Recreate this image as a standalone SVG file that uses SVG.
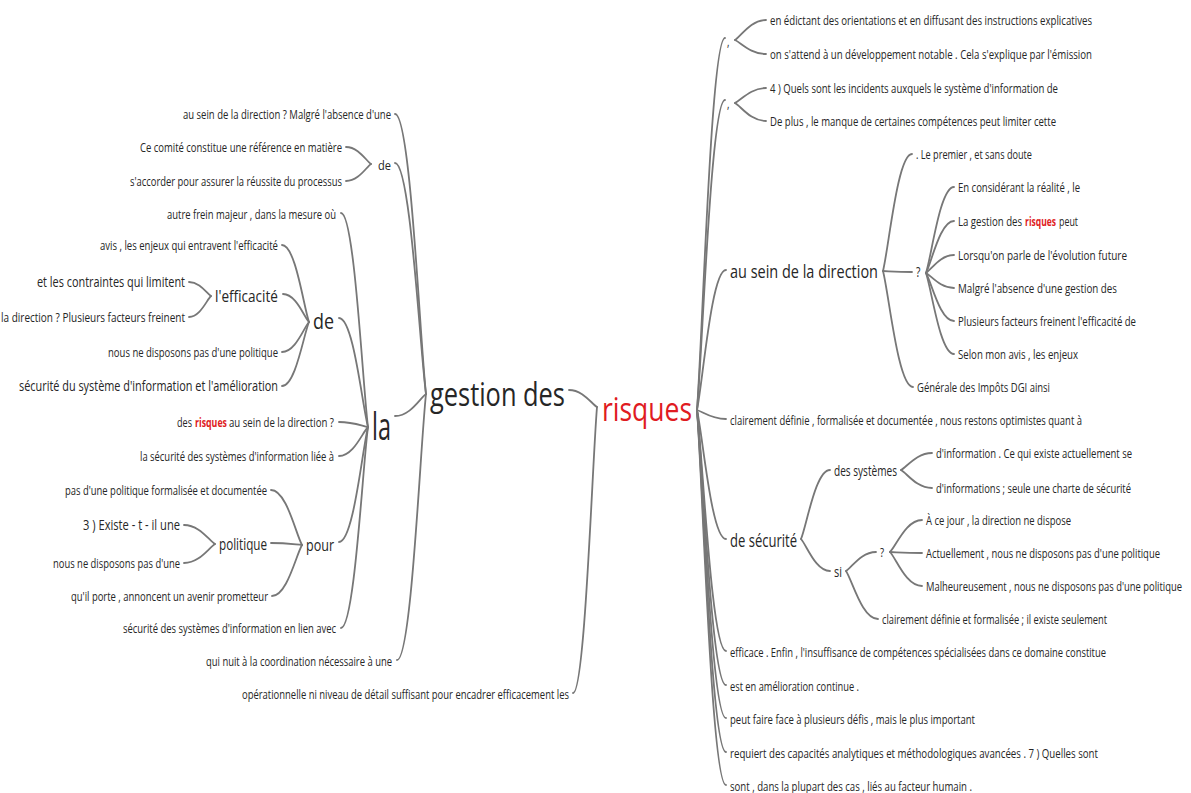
<svg xmlns="http://www.w3.org/2000/svg" width="1191" height="793" viewBox="0 0 1191 793">
<style>
text{font-family:"Open Sans","Noto Sans","Liberation Sans",sans-serif;fill:#262626;font-size:13px}
.f14{font-size:14px}.f15{font-size:15px}.f16{font-size:16px}.f17{font-size:17px}.f19{font-size:19px}.f21{font-size:21px}
.big{font-size:33px}
.red{fill:#e01b22}
.kw{fill:#e01b22;font-weight:bold}
#connectors path{fill:none;stroke:#777777;stroke-width:1.8;stroke-linecap:round}
</style>
<rect width="1191" height="793" fill="#ffffff"/>
<g id="connectors">
<path d="M426,394 C419.8,338 410.5,114 395,114"/>
<path d="M426,394 C419.8,347.8 410.5,163 395,163"/>
<path d="M426,394 C419.8,398.4 410.5,416 395,416"/>
<path d="M426,394 C420.2,447.2 411.5,660 397,660"/>
<path d="M371,164 C366,160.6 358.5,147 346,147"/>
<path d="M371,164 C366,167.4 358.5,181 346,181"/>
<path d="M368,427 C362.6,384.2 354.5,213 341,213"/>
<path d="M368,427 C362.2,405.2 353.5,318 339,318"/>
<path d="M368,427 C362.2,426 353.5,422 339,422"/>
<path d="M368,427 C362.2,432.8 353.5,456 339,456"/>
<path d="M368,427 C362.2,450 353.5,542 339,542"/>
<path d="M368,427 C362.6,467.2 354.5,628 341,628"/>
<path d="M309,322 C303.6,306.6 295.5,245 282,245"/>
<path d="M309,322 C303.8,316.4 296,294 283,294"/>
<path d="M309,322 C303.6,328 295.5,352 282,352"/>
<path d="M309,322 C303.6,334.8 295.5,386 282,386"/>
<path d="M211,296 C206.6,293.2 200,282 189,282"/>
<path d="M211,296 C206.6,300.2 200,317 189,317"/>
<path d="M302,545 C295.8,534 286.5,490 271,490"/>
<path d="M302,545 C295.8,544.6 286.5,543 271,543"/>
<path d="M302,545 C296,555.2 287,596 272,596"/>
<path d="M215,544 C208.8,540.2 199.5,525 184,525"/>
<path d="M215,544 C208.8,547.8 199.5,563 184,563"/>
<path d="M597,407 C591.4,403.6 583,390 569,390"/>
<path d="M597,407 C592.2,464.2 585,693 573,693"/>
<path d="M697,410 C702.6,335.6 711,38 725,38"/>
<path d="M697,410 C702.6,348 711,100 725,100"/>
<path d="M697,410 C702.8,382 711.5,270 726,270"/>
<path d="M697,410 C702.8,411.8 711.5,419 726,419"/>
<path d="M697,410 C702.8,435.8 711.5,539 726,539"/>
<path d="M697,410 C702.8,458.2 711.5,651 726,651"/>
<path d="M697,410 C702.8,465 711.5,685 726,685"/>
<path d="M697,410 C702.8,471.6 711.5,718 726,718"/>
<path d="M697,410 C702.8,478.4 711.5,752 726,752"/>
<path d="M697,410 C702.8,485 711.5,785 726,785"/>
<path d="M735,40 C741.2,36 750.5,20 766,20"/>
<path d="M735,40 C741.2,42.8 750.5,54 766,54"/>
<path d="M735,103 C741.2,100 750.5,88 766,88"/>
<path d="M735,103 C741.2,106.6 750.5,121 766,121"/>
<path d="M883,271 C888.8,247.6 897.5,154 912,154"/>
<path d="M883,271 C888.8,271.2 897.5,272 912,272"/>
<path d="M883,271 C889,294.2 898,387 913,387"/>
<path d="M926,273 C931.6,255.8 940,187 954,187"/>
<path d="M926,273 C931.6,262.6 940,221 954,221"/>
<path d="M926,273 C931.6,269.4 940,255 954,255"/>
<path d="M926,273 C931.6,276 940,288 954,288"/>
<path d="M926,273 C931.6,282.6 940,321 954,321"/>
<path d="M926,273 C931.6,289.2 940,354 954,354"/>
<path d="M801,539 C806.8,525.2 815.5,470 830,470"/>
<path d="M801,539 C806.8,545.4 815.5,571 830,571"/>
<path d="M901,470 C907.2,466.6 916.5,453 932,453"/>
<path d="M901,470 C907.2,473.6 916.5,488 932,488"/>
<path d="M846,571 C852,567.2 861,552 876,552"/>
<path d="M846,571 C852.4,580.6 862,619 878,619"/>
<path d="M890,552 C896.4,545.6 906,520 922,520"/>
<path d="M890,552 C896.4,552.2 906,553 922,553"/>
<path d="M890,552 C896.4,558.8 906,586 922,586"/>
</g>
<g id="n-risques"><text class="big red" transform="translate(602,421) scale(.73,1)" textLength="123.3" lengthAdjust="spacingAndGlyphs">risques</text></g>
<g id="n-gestion"><text class="big" transform="translate(430,406) scale(.73,1)" textLength="184.9" lengthAdjust="spacingAndGlyphs">gestion des</text></g>
<g id="n-la"><text class="big" style="font-size:38px" transform="translate(372,440) scale(.73,1)" textLength="26" lengthAdjust="spacingAndGlyphs">la</text></g>
<g id="n-L1"><text transform="translate(183,118.5) scale(.73,1)" textLength="284.9" lengthAdjust="spacingAndGlyphs">au sein de la direction ? Malgré l'absence d'une</text></g>
<g id="n-L2"><text transform="translate(378,169.5) scale(.73,1)" textLength="17.8" lengthAdjust="spacingAndGlyphs">de</text></g>
<g id="n-L2a"><text transform="translate(140,151.5) scale(.73,1)" textLength="276.7" lengthAdjust="spacingAndGlyphs">Ce comité constitue une référence en matière</text></g>
<g id="n-L2b"><text transform="translate(130,185.5) scale(.73,1)" textLength="290.4" lengthAdjust="spacingAndGlyphs">s'accorder pour assurer la réussite du processus</text></g>
<g id="n-L3"><text transform="translate(167,218.5) scale(.73,1)" textLength="231.5" lengthAdjust="spacingAndGlyphs">autre frein majeur , dans la mesure où</text></g>
<g id="n-L4"><text class="f21" transform="translate(313,329) scale(.73,1)" textLength="28.8" lengthAdjust="spacingAndGlyphs">de</text></g>
<g id="n-L4a"><text transform="translate(100,249.5) scale(.73,1)" textLength="243.8" lengthAdjust="spacingAndGlyphs">avis , les enjeux qui entravent l'efficacité</text></g>
<g id="n-L4b"><text class="f16" transform="translate(215,301.5) scale(.73,1)" textLength="86.3" lengthAdjust="spacingAndGlyphs">l'efficacité</text></g>
<g id="n-L4b1"><text class="f15" transform="translate(37,287) scale(.73,1)" textLength="202.7" lengthAdjust="spacingAndGlyphs">et les contraintes qui limitent</text></g>
<g id="n-L4b2"><text transform="translate(1,321.5) scale(.73,1)" textLength="252.1" lengthAdjust="spacingAndGlyphs">la direction ? Plusieurs facteurs freinent</text></g>
<g id="n-L4c"><text transform="translate(108,356.5) scale(.73,1)" textLength="232.9" lengthAdjust="spacingAndGlyphs">nous ne disposons pas d'une politique</text></g>
<g id="n-L4d"><text class="f15" transform="translate(19,391) scale(.73,1)" textLength="354.8" lengthAdjust="spacingAndGlyphs">sécurité du système d'information et l'amélioration</text></g>
<g id="n-L5">
<text transform="translate(177,426.5) scale(.73,1)" textLength="20.5" lengthAdjust="spacingAndGlyphs">des</text>
<text class="kw" transform="translate(195,426.5) scale(.73,1)" textLength="43.8" lengthAdjust="spacingAndGlyphs">risques</text>
<text transform="translate(229,426.5) scale(.73,1)" textLength="143.8" lengthAdjust="spacingAndGlyphs">au sein de la direction ?</text>
</g>
<g id="n-L6"><text transform="translate(140,460.5) scale(.73,1)" textLength="265.8" lengthAdjust="spacingAndGlyphs">la sécurité des systèmes d'information liée à</text></g>
<g id="n-L7"><text class="f17" transform="translate(306,551) scale(.73,1)" textLength="38.4" lengthAdjust="spacingAndGlyphs">pour</text></g>
<g id="n-L7a"><text transform="translate(65,494.5) scale(.73,1)" textLength="276.7" lengthAdjust="spacingAndGlyphs">pas d'une politique formalisée et documentée</text></g>
<g id="n-L7b"><text class="f16" transform="translate(219,549.5) scale(.73,1)" textLength="65.8" lengthAdjust="spacingAndGlyphs">politique</text></g>
<g id="n-L7b1"><text class="f15" transform="translate(83,530) scale(.73,1)" textLength="132.9" lengthAdjust="spacingAndGlyphs">3 ) Existe - t - il une</text></g>
<g id="n-L7b2"><text transform="translate(53,567.5) scale(.73,1)" textLength="174" lengthAdjust="spacingAndGlyphs">nous ne disposons pas d'une</text></g>
<g id="n-L7c"><text transform="translate(71,600.5) scale(.73,1)" textLength="269.9" lengthAdjust="spacingAndGlyphs">qu'il porte , annoncent un avenir prometteur</text></g>
<g id="n-L8"><text transform="translate(123,632.5) scale(.73,1)" textLength="291.8" lengthAdjust="spacingAndGlyphs">sécurité des systèmes d'information en lien avec</text></g>
<g id="n-L9"><text transform="translate(206,665.5) scale(.73,1)" textLength="254.8" lengthAdjust="spacingAndGlyphs">qui nuit à la coordination nécessaire à une</text></g>
<g id="n-L10"><text transform="translate(242,698.5) scale(.73,1)" textLength="447.9" lengthAdjust="spacingAndGlyphs">opérationnelle ni niveau de détail suffisant pour encadrer efficacement les</text></g>
<g id="n-R1"><text transform="translate(727,46) scale(.73,1)">,</text></g>
<g id="n-R1a"><text transform="translate(770,24.5) scale(.73,1)" textLength="441.1" lengthAdjust="spacingAndGlyphs">en édictant des orientations et en diffusant des instructions explicatives</text></g>
<g id="n-R1b"><text transform="translate(770,58.5) scale(.73,1)" textLength="441.1" lengthAdjust="spacingAndGlyphs">on s'attend à un développement notable . Cela s'explique par l'émission</text></g>
<g id="n-R2"><text transform="translate(727,108) scale(.73,1)">,</text></g>
<g id="n-R2a"><text transform="translate(770,92.5) scale(.73,1)" textLength="394.5" lengthAdjust="spacingAndGlyphs">4 ) Quels sont les incidents auxquels le système d'information de</text></g>
<g id="n-R2b"><text transform="translate(770,125.5) scale(.73,1)" textLength="391.8" lengthAdjust="spacingAndGlyphs">De plus , le manque de certaines compétences peut limiter cette</text></g>
<g id="n-R3"><text class="f19" transform="translate(730,277.5) scale(.73,1)" textLength="202.7" lengthAdjust="spacingAndGlyphs">au sein de la direction</text></g>
<g id="n-R3a"><text transform="translate(916,158.5) scale(.73,1)" textLength="158.9" lengthAdjust="spacingAndGlyphs">. Le premier , et sans doute</text></g>
<g id="n-R3b"><text class="f14" transform="translate(916,277) scale(.73,1)">?</text></g>
<g id="n-R3b1"><text transform="translate(958,191.5) scale(.73,1)" textLength="167.1" lengthAdjust="spacingAndGlyphs">En considérant la réalité , le</text></g>
<g id="n-R3b2">
<text transform="translate(958,225.5) scale(.73,1)" textLength="87.7" lengthAdjust="spacingAndGlyphs">La gestion des</text>
<text class="kw" transform="translate(1025,225.5) scale(.73,1)" textLength="42.5" lengthAdjust="spacingAndGlyphs">risques</text>
<text transform="translate(1059,225.5) scale(.73,1)" textLength="26" lengthAdjust="spacingAndGlyphs">peut</text>
</g>
<g id="n-R3b3"><text transform="translate(958,259.5) scale(.73,1)" textLength="231.5" lengthAdjust="spacingAndGlyphs">Lorsqu'on parle de l'évolution future</text></g>
<g id="n-R3b4"><text transform="translate(958,292.5) scale(.73,1)" textLength="217.8" lengthAdjust="spacingAndGlyphs">Malgré l'absence d'une gestion des</text></g>
<g id="n-R3b5"><text transform="translate(958,325.5) scale(.73,1)" textLength="243.8" lengthAdjust="spacingAndGlyphs">Plusieurs facteurs freinent l'efficacité de</text></g>
<g id="n-R3b6"><text transform="translate(958,358.5) scale(.73,1)" textLength="164.4" lengthAdjust="spacingAndGlyphs">Selon mon avis , les enjeux</text></g>
<g id="n-R3c"><text transform="translate(917,391.5) scale(.73,1)" textLength="182.2" lengthAdjust="spacingAndGlyphs">Générale des Impôts DGI ainsi</text></g>
<g id="n-R4"><text transform="translate(730,424.5) scale(.73,1)" textLength="482.2" lengthAdjust="spacingAndGlyphs">clairement définie , formalisée et documentée , nous restons optimistes quant à</text></g>
<g id="n-R5"><text class="f19" transform="translate(730,546.5) scale(.73,1)" textLength="91.8" lengthAdjust="spacingAndGlyphs">de sécurité</text></g>
<g id="n-R5a"><text class="f14" transform="translate(834,476) scale(.73,1)" textLength="86.3" lengthAdjust="spacingAndGlyphs">des systèmes</text></g>
<g id="n-R5a1"><text transform="translate(936,457.5) scale(.73,1)" textLength="268.5" lengthAdjust="spacingAndGlyphs">d'information . Ce qui existe actuellement se</text></g>
<g id="n-R5a2"><text transform="translate(936,492.5) scale(.73,1)" textLength="267.1" lengthAdjust="spacingAndGlyphs">d'informations ; seule une charte de sécurité</text></g>
<g id="n-R5b"><text class="f14" transform="translate(834,577) scale(.73,1)" textLength="11" lengthAdjust="spacingAndGlyphs">si</text></g>
<g id="n-R5b1"><text transform="translate(880,556.5) scale(.73,1)">?</text></g>
<g id="n-R5b1a"><text transform="translate(926,524.5) scale(.73,1)" textLength="198.6" lengthAdjust="spacingAndGlyphs">À ce jour , la direction ne dispose</text></g>
<g id="n-R5b1b"><text transform="translate(926,557.5) scale(.73,1)" textLength="320.5" lengthAdjust="spacingAndGlyphs">Actuellement , nous ne disposons pas d'une politique</text></g>
<g id="n-R5b1c"><text transform="translate(926,590.5) scale(.73,1)" textLength="350.7" lengthAdjust="spacingAndGlyphs">Malheureusement , nous ne disposons pas d'une politique</text></g>
<g id="n-R5b2"><text transform="translate(882,623.5) scale(.73,1)" textLength="308.2" lengthAdjust="spacingAndGlyphs">clairement définie et formalisée ; il existe seulement</text></g>
<g id="n-R6"><text transform="translate(730,656.5) scale(.73,1)" textLength="515.1" lengthAdjust="spacingAndGlyphs">efficace . Enfin , l'insuffisance de compétences spécialisées dans ce domaine constitue</text></g>
<g id="n-R7"><text transform="translate(730,690.5) scale(.73,1)" textLength="176.7" lengthAdjust="spacingAndGlyphs">est en amélioration continue .</text></g>
<g id="n-R8"><text transform="translate(730,723.5) scale(.73,1)" textLength="335.6" lengthAdjust="spacingAndGlyphs">peut faire face à plusieurs défis , mais le plus important</text></g>
<g id="n-R9"><text transform="translate(730,757.5) scale(.73,1)" textLength="504.1" lengthAdjust="spacingAndGlyphs">requiert des capacités analytiques et méthodologiques avancées . 7 ) Quelles sont</text></g>
<g id="n-R10"><text transform="translate(730,790.5) scale(.73,1)" textLength="331.5" lengthAdjust="spacingAndGlyphs">sont , dans la plupart des cas , liés au facteur humain .</text></g>
</svg>
